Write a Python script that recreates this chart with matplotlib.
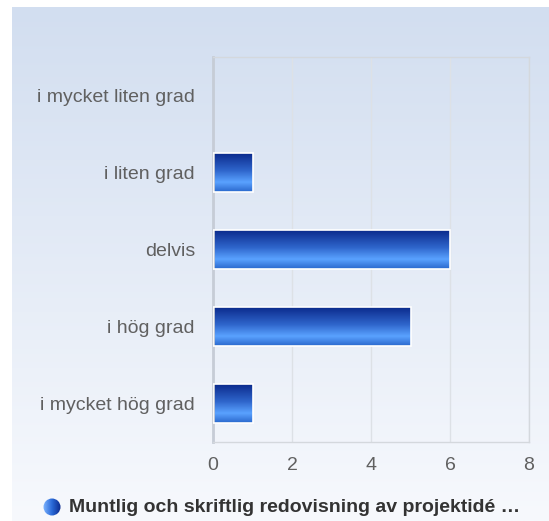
import matplotlib.pyplot as plt
import matplotlib
import numpy as np
from matplotlib.colors import LinearSegmentedColormap
from matplotlib.patches import Circle

matplotlib.rcParams['font.family'] = ['Liberation Sans', 'DejaVu Sans']

categories = ['i mycket liten grad', 'i liten grad', 'delvis', 'i hög grad', 'i mycket hög grad']
values = [0, 1, 6, 5, 1]
xticks = [0, 2, 4, 6, 8]
legend_text = 'Muntlig och skriftlig redovisning av projektidé …'

W, H = 549, 521
fig = plt.figure(figsize=(W / 100, H / 100), dpi=100)

# background gradient panel
bg = fig.add_axes([12 / W, 0, 537 / W, 514 / H])
bg_cmap = LinearSegmentedColormap.from_list('bg', ['#d2def0', '#f7f9fd'])
bg.imshow(np.linspace(0, 1, 256).reshape(-1, 1), cmap=bg_cmap, aspect='auto',
          extent=(0, 1, 0, 1), origin='upper')
bg.set_axis_off()

ax = fig.add_axes([213 / W, 1 - 442 / H, 316 / W, 385 / H])
ax.patch.set_alpha(0)

bar_cmap = LinearSegmentedColormap.from_list(
    'bar', [(0, '#0b2a8c'), (0.45, '#2f66cc'), (0.75, '#5aa2ff'), (1, '#2a68cc')])
grad = np.linspace(0, 1, 128).reshape(-1, 1)

ypos = np.arange(len(categories))
bars = ax.barh(ypos, values, height=0.5, facecolor='none', edgecolor='white', linewidth=1.2, zorder=3)
for b, v in zip(bars, values):
    if v == 0:
        b.set_linewidth(0)
        continue
    y0 = b.get_y()
    im = ax.imshow(grad, cmap=bar_cmap, aspect='auto', origin='upper',
                   extent=(0, v, y0 + b.get_height(), y0), zorder=2)
    im.set_clip_path(b)

ax.set_xlim(0, 8)
ax.set_ylim(len(categories) - 0.5, -0.5)
ax.set_xticks(xticks)
ax.set_xticklabels([str(t) for t in xticks])
ax.set_yticks(ypos)
ax.set_yticklabels(categories)
ax.tick_params(axis='both', length=0, labelsize=14, labelcolor='#606060')
ax.tick_params(axis='x', pad=11)
ax.tick_params(axis='y', pad=13)
ax.xaxis.grid(True, color='#dde1e6', linewidth=1)
ax.set_axisbelow(True)
for s in ['top', 'right', 'bottom']:
    ax.spines[s].set_color('#d4d8dd')
    ax.spines[s].set_linewidth(1)
ax.spines['left'].set_color('#c6ccd6')
ax.spines['left'].set_linewidth(2)

# legend
leg = fig.add_axes([0, 0, 1, 1])
leg.set_xlim(0, W)
leg.set_ylim(H, 0)
leg.set_axis_off()
leg.patch.set_alpha(0)
circ = Circle((52, 507), 8.5, transform=leg.transData, facecolor='none', edgecolor='none')
leg.add_patch(circ)
lc = LinearSegmentedColormap.from_list('lc', ['#7fb6ff', '#2a6ad8', '#0b2a8c'])
cim = leg.imshow(np.linspace(0, 1, 64).reshape(1, -1), cmap=lc, aspect='auto',
                 extent=(43, 61, 516, 498))
cim.set_clip_path(circ)
leg.text(69, 508, legend_text, fontsize=14, fontweight='bold', color='#333333',
         va='center', ha='left')

fig.savefig('out.png', dpi=100)
